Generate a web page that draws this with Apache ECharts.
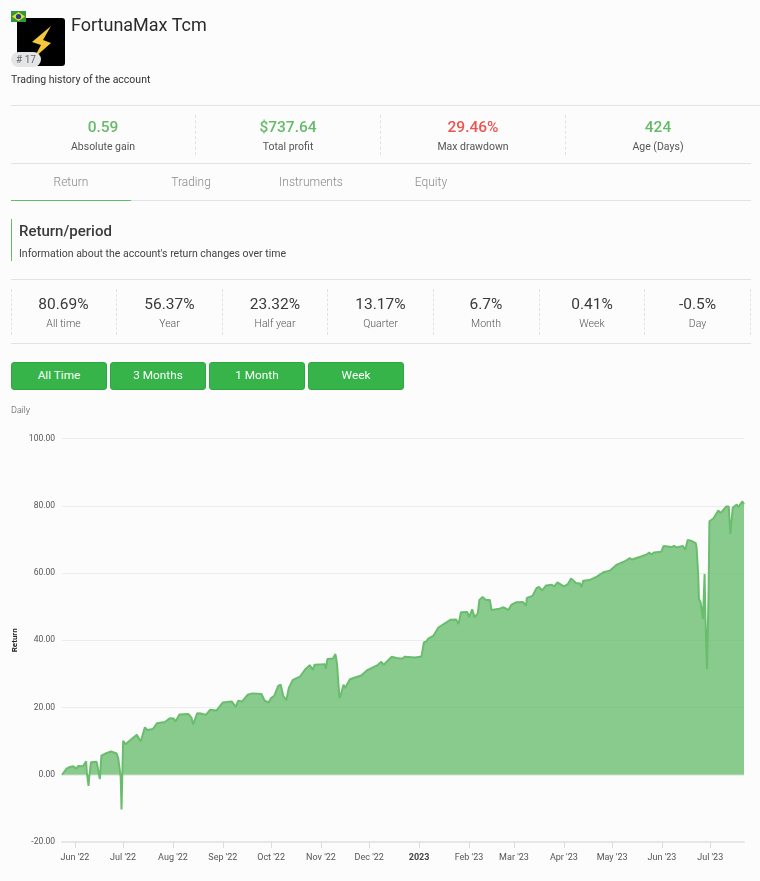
<!DOCTYPE html>
<html><head><meta charset="utf-8">
<script src="https://cdn.jsdelivr.net/npm/echarts@6/dist/echarts.min.js"></script>
<style>
html,body{margin:0;padding:0;background:#fcfcfc;font-family:Roboto,sans-serif;overflow:hidden}
#page{position:relative;width:760px;height:881px;overflow:hidden}
#chart{position:absolute;left:0;top:0;width:760px;height:881px}
.a{position:absolute;white-space:nowrap}
.c{transform:translate(-50%,-50%)}
.l{transform:translateY(-50%)}
.h{position:absolute;left:11px;width:740px;height:1px;background:#e2e3e3}
.d{position:absolute;width:0;border-left:1px dashed #e2e2e2}
.sv{font-size:15.5px;font-weight:500;color:#66bb6a}
.sl{font-size:10.5px;color:#555}
.rv{font-size:15.5px;font-weight:400;color:#3a3a3a}
.rl{font-size:10.5px;font-weight:300;color:#555}
.t{font-size:12px;font-weight:300;color:#8a8a8a}
.b{position:absolute;top:362px;width:96px;height:28px;line-height:25px;box-sizing:border-box;border:1px solid #2fa844;background:#36b44a;border-radius:3px;color:#fff;font-size:11.8px;text-align:center}
</style></head><body>
<div id="page">
<div id="chart"></div>
<svg class="a" style="left:17px;top:18px" width="48" height="48"><rect width="48" height="48" rx="3" fill="#000"/><path d="M34 8 L15 24 L24 27 L17 40 L34 25 L26 22 Z" fill="#f5c83a"/></svg>
<svg class="a" style="left:11px;top:11px" width="15" height="11"><rect width="15" height="11" fill="#2f9a3c"/><path d="M7.5 1 L14 5.5 L7.5 10 L1 5.5Z" fill="#f4d92e"/><circle cx="7.5" cy="5.5" r="2.6" fill="#1f3f8f"/></svg>
<div class="a" style="left:11px;top:52px;width:30px;height:15px;line-height:15px;border-radius:8px;background:#e3e5e7;color:#666;font-size:10px;text-align:center"># 17</div>
<div class="a l" style="left:71px;top:24px;font-size:18px;color:#2b2b2b">FortunaMax Tcm</div>
<div class="a l" style="left:11px;top:79px;font-size:10.5px;color:#333">Trading history of the account</div>
<div class="h" style="top:105px;width:749px"></div>
<div class="d" style="left:195px;top:115px;height:40px"></div><div class="d" style="left:380px;top:115px;height:40px"></div><div class="d" style="left:565px;top:115px;height:40px"></div>
<div class="a c sv" style="left:103px;top:127px">0.59</div><div class="a c sl" style="left:103px;top:146px">Absolute gain</div>
<div class="a c sv" style="left:288px;top:127px">$737.64</div><div class="a c sl" style="left:288px;top:146px">Total profit</div>
<div class="a c sv" style="left:473px;top:127px;color:#ef5350">29.46%</div><div class="a c sl" style="left:473px;top:146px">Max drawdown</div>
<div class="a c sv" style="left:658px;top:127px">424</div><div class="a c sl" style="left:658px;top:146px">Age (Days)</div>
<div class="h" style="top:163px"></div>
<div class="a c t" style="left:71px;top:182px">Return</div><div class="a c t" style="left:191px;top:182px">Trading</div><div class="a c t" style="left:311px;top:182px">Instruments</div><div class="a c t" style="left:431px;top:182px">Equity</div>
<div class="h" style="top:200px"></div><div class="a" style="left:11px;top:200px;width:120px;height:1px;background:#66bb6a"></div>
<div class="a" style="left:11px;top:219px;width:1px;height:42px;background:#66bb6a"></div>
<div class="a l" style="left:19px;top:231px;font-size:15px;font-weight:500;color:#3a3a3a">Return/period</div>
<div class="a l" style="left:19px;top:253px;font-size:10.5px;color:#444">Information about the account's return changes over time</div>
<div class="h" style="top:279px"></div>
<div class="d" style="left:11px;top:289px;height:46px"></div><div class="d" style="left:116px;top:289px;height:46px"></div><div class="d" style="left:222px;top:289px;height:46px"></div><div class="d" style="left:327px;top:289px;height:46px"></div><div class="d" style="left:433px;top:289px;height:46px"></div><div class="d" style="left:539px;top:289px;height:46px"></div><div class="d" style="left:644px;top:289px;height:46px"></div><div class="d" style="left:750px;top:289px;height:46px"></div>
<div class="a c rv" style="left:63.5px;top:304px">80.69%</div><div class="a c rl" style="left:63.5px;top:323px">All time</div>
<div class="a c rv" style="left:169.5px;top:304px">56.37%</div><div class="a c rl" style="left:169.5px;top:323px">Year</div>
<div class="a c rv" style="left:275px;top:304px">23.32%</div><div class="a c rl" style="left:275px;top:323px">Half year</div>
<div class="a c rv" style="left:380.5px;top:304px">13.17%</div><div class="a c rl" style="left:380.5px;top:323px">Quarter</div>
<div class="a c rv" style="left:486px;top:304px">6.7%</div><div class="a c rl" style="left:486px;top:323px">Month</div>
<div class="a c rv" style="left:592px;top:304px">0.41%</div><div class="a c rl" style="left:592px;top:323px">Week</div>
<div class="a c rv" style="left:697.5px;top:304px">-0.5%</div><div class="a c rl" style="left:697.5px;top:323px">Day</div>
<div class="h" style="top:343px"></div>
<div class="b" style="left:11px">All Time</div><div class="b" style="left:110px">3 Months</div><div class="b" style="left:209px">1 Month</div><div class="b" style="left:308px">Week</div>
<div class="a l" style="left:11px;top:410px;font-size:9px;font-weight:300;color:#555">Daily</div>
</div>
<script>
const dayOffsets = [0,1,3,5,7,8,9,10,13,14,15,15.5,16.5,17,18,21.5,22,23.5,24.5,27.5,30.5,34,35,36.5,37,38,39.5,42,46.5,49,51.5,53,56.5,59,64,67,69.5,70.5,73,78.5,80.5,81.5,82.5,84,86.5,87.5,89.5,92,96,100,105.5,108,109.5,112,115.5,118.5,124,126,128.5,130,132,134.5,136,137.5,139.5,141,143.5,148,151,154,156,157,163.5,164,165,168.5,170,171,172.5,173.5,175,176,179,186,189.5,196.5,198.5,200,205,208,211.5,213,219.5,223.5,225,226.5,227.5,231,234,239,241.5,245,246.5,248,252,253,255,256.5,258.5,259.5,261.5,263.5,266,267,272,274.5,277.5,279.5,282.5,286.5,288.5,289,292.5,295,296.5,298.5,301,304.5,306,308,312,314.5,316.5,319.5,322,323,324,328,332.5,336.5,340.5,345,350,353,354.5,360,363.5,365,366.5,368,372.5,374,379,380.5,382,386,387.5,389,391,394,394.5,395.5,396,397,398.5,399.5,400,401,402,402.5,405,408,409.5,413,414.5,415.5,417,419.5,420.5,423,424];
const returns = [0,0,1.9,2.3,2.5,2.7,1.8,2.6,2.5,2.9,4,0.3,-3.3,-0.3,3.7,3.9,2.7,-1.3,5.7,6.4,6.9,6.3,4.8,-0.8,-10.3,10.1,9.1,10.1,11.9,9.9,14.1,13.3,13.6,15.3,15.7,16.8,16.7,15.8,17.9,18.1,17,14.9,15.3,18.3,18.2,18.5,17.8,19.3,19.1,21.5,21.8,20.2,22,21.8,23.8,24.2,24,22,21.5,22.8,23.5,26.5,26.8,23.5,22.2,25.8,28.2,29.2,31.2,32.6,31.2,32.7,32.9,31.4,34.4,34.6,35.9,32.9,22.8,24,26.8,25.8,28.4,29.5,31,32.7,33.6,32.7,35.1,34.7,34.5,35.1,34.9,35.2,39.4,39.6,40.4,41.4,43.8,45.3,46.1,46.2,44.8,48.3,48.4,46.8,49.2,46.8,48,52,52.9,52,52,49,49.4,49.8,49,50.6,51.3,51.4,50.3,52.6,53.2,55.5,55.9,54.8,56.3,56.5,56,57.2,56,56.7,58.4,57,56.9,55.8,57.7,57.9,58.9,60.2,60.7,62.5,63.5,64.4,64,64.9,65.5,66.1,65.5,66.1,66.3,68,67.7,68.1,67.6,68,66.9,69.8,69.6,68.9,67.7,59.7,52.3,51.3,46.3,59.7,46.9,31.4,54.8,75.4,76.2,78.6,77.8,79.8,79.8,71.6,79.4,80.4,79.6,81.3,80.4];
const tickDates = ['2022-06-01','2022-07-01','2022-08-01','2022-09-01','2022-10-01','2022-11-01','2022-12-01','2023-01-01','2023-02-01','2023-03-01','2023-04-01','2023-05-01','2023-06-01','2023-07-01'];
const tickLabels = ["Jun '22","Jul '22","Aug '22","Sep '22","Oct '22","Nov '22","Dec '22","2023","Feb '23","Mar '23","Apr '23","May '23","Jun '23","Jul '23"];
const yTicks = {min:-20,max:100,interval:20};

const DAY = 86400000;
const t0 = Date.UTC(2022,4,24);
const toTime = s => { const p = s.split('-').map(Number); return Date.UTC(p[0],p[1]-1,p[2]); };
const tickTimes = tickDates.map(toTime);
const points = dayOffsets.map((d,i)=>[t0+d*DAY, returns[i]]);

const chart = echarts.init(document.getElementById('chart'), null, {renderer:'canvas'});
chart.setOption({
  animation:false,
  backgroundColor:'transparent',
  grid:{left:62,right:16,top:438.5,bottom:39,containLabel:false},
  xAxis:{
    type:'value',
    min:t0,
    max:t0+424*DAY,
    axisLine:{onZero:false,lineStyle:{color:'#e6e6e6',width:2}},
    axisTick:{show:true,customValues:tickTimes,length:6,lineStyle:{color:'#dcdcdc'}},
    splitLine:{show:false},
    axisLabel:{
      customValues:tickTimes,
      hideOverlap:false,
      margin:11,
      fontFamily:'Roboto',
      fontSize:9,
      color:'#555',
      formatter:function(v){
        const l = tickLabels[tickTimes.indexOf(v)] || '';
        return l === '2023' ? '{b|2023}' : l;
      },
      rich:{b:{fontWeight:'bold',fontSize:9,fontFamily:'Roboto',color:'#444'}}
    }
  },
  yAxis:{
    type:'value',
    min:yTicks.min,max:yTicks.max,interval:yTicks.interval,
    name:'Return',
    nameLocation:'middle',
    nameGap:43,
    nameMoveOverlap:false,
    nameTextStyle:{fontSize:8,fontFamily:'Roboto',fontWeight:'bold',color:'#222'},
    axisLine:{show:false},
    axisTick:{show:false},
    splitLine:{lineStyle:{color:'#ececec',width:1}},
    axisLabel:{margin:7,fontFamily:'Roboto',fontSize:8.5,color:'#555',formatter:v=>v.toFixed(2)}
  },
  series:[{
    type:'line',
    data:points,
    showSymbol:false,
    symbol:'none',
    smooth:false,
    lineStyle:{color:'#6abd6e',width:2},
    itemStyle:{color:'#6abd6e'},
    areaStyle:{color:'#66bb6a',opacity:0.77}
  }]
});
</script>
</body></html>
